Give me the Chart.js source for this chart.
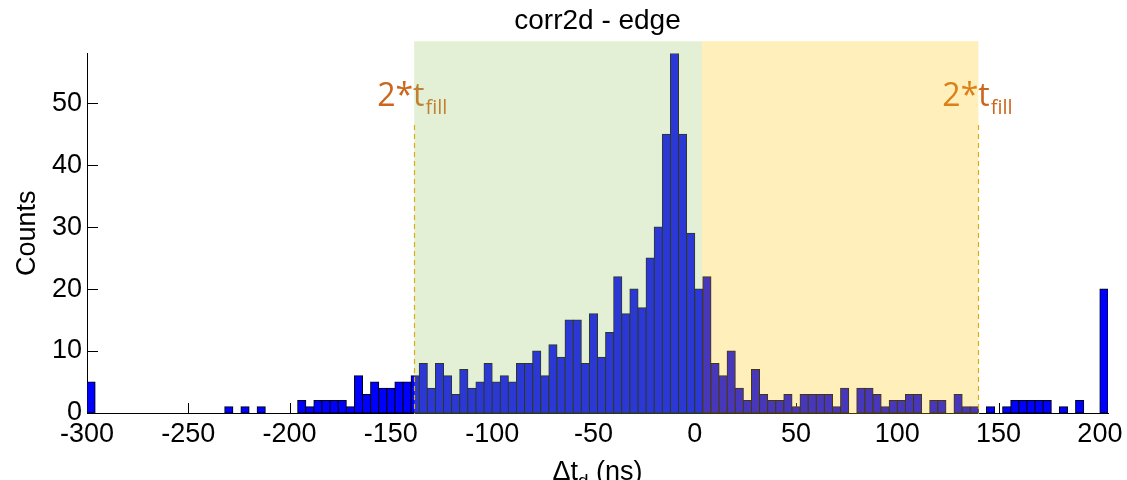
<!DOCTYPE html>
<html>
<head>
<meta charset="utf-8">
<script src="https://cdn.jsdelivr.net/npm/chart.js@4.4.1/dist/chart.umd.min.js"></script>
<style>
  body { margin: 0; background: #fff; }
  #wrap { width: 1127px; height: 480px; position: relative; }
</style>
</head>
<body>
<div id="wrap"><canvas id="histo"></canvas></div>
<script>
// bin centres (ns, 4 ns wide bins) and counts; empty bins left out
const binCenters = [
  -298, -230, -222, -214,
  -194, -190, -186, -182, -178, -174, -170, -166, -162, -158, -154, -150, -146, -142,
  -138, -134, -130, -126, -122, -118, -114, -110, -106, -102, -98, -94, -90, -86, -82,
  -78, -74, -70, -66, -62, -58, -54, -50, -46, -42, -38, -34, -30, -26, -22, -18,
  -14, -10, -6, -2,
  2, 6, 10, 14, 18, 22, 26, 30, 34, 38, 42, 46, 50, 54, 58, 62, 66, 70, 74,
  82, 86, 90, 94, 98, 102, 106, 110, 118, 122, 130, 134, 138,
  146, 154, 158, 162, 166, 170, 174, 182, 190, 202,
];
const counts = [
  5, 1, 1, 1,
  2, 1, 2, 2, 2, 2, 1, 6, 3, 5, 4, 4, 5, 5,
  6, 8, 4, 8, 6, 3, 7, 4, 5, 8, 5, 6, 5, 8, 8,
  10, 6, 11, 9, 15, 15, 8, 16, 9, 13, 22, 16, 20, 17, 25, 30,
  45, 58, 45, 29,
  20, 22, 8, 6, 10, 4, 2, 7, 3, 2, 2, 3, 1, 3, 3, 3, 3, 1, 4,
  4, 4, 3, 1, 2, 2, 3, 3, 2, 2, 3, 1, 1,
  1, 1, 2, 2, 2, 2, 2, 1, 2, 20,
];
const xTicks = [-300, -250, -200, -150, -100, -50, 0, 50, 100, 150, 200];
const yTicks = [0, 10, 20, 30, 40, 50];

// shaded windows and the 2*t_fill markers (ns)
const greenSpan = [-138.5, 3.5];
const yellowSpan = [3.5, 140];
const fillMarks = [-138.5, 140];

const txtFont = "'Liberation Sans', Arial, sans-serif";
const noteFont = "'Open Sans', sans-serif";

// MATLAB style tick marks pointing into the axes, under the bars
const innerTicks = {
  id: "innerTicks",
  beforeDatasetsDraw(chart) {
    let { ctx, scales, chartArea } = chart;
    let x0 = chartArea.left;
    let y0 = scales.y.getPixelForValue(0);
    ctx.save();
    ctx.strokeStyle = "#000";
    ctx.lineWidth = 1;
    ctx.beginPath();
    xTicks.forEach((v) => {
      let px = Math.round(scales.x.getPixelForValue(v)) + 0.5;
      ctx.moveTo(px, y0);
      ctx.lineTo(px, y0 - 10);
    });
    yTicks.forEach((v) => {
      let py = Math.round(scales.y.getPixelForValue(v)) + 0.5;
      ctx.moveTo(x0, py);
      ctx.lineTo(x0 + 11, py);
    });
    ctx.stroke();
    ctx.restore();
  },
};

function fillLabel(ctx, px, baseY) {
  ctx.fillStyle = "#CD661D";
  ctx.textBaseline = "alphabetic";
  ctx.textAlign = "left";
  ctx.font = "32px " + noteFont;
  ctx.fillText("2*t", px, baseY);
  let w = ctx.measureText("2*t").width;
  ctx.font = "20px " + noteFont;
  ctx.fillText("fill", px + w + 1, baseY + 8);
}

// labels, translucent windows (over the bars) and dashed markers
const windows = {
  id: "windows",
  afterDatasetsDraw(chart) {
    let { ctx, scales } = chart;
    let top = scales.y.getPixelForValue(60);
    let bottom = scales.y.getPixelForValue(0) + 1;
    ctx.save();
    fillLabel(ctx, scales.x.getPixelForValue(fillMarks[0]) - 37, 106);
    fillLabel(ctx, scales.x.getPixelForValue(fillMarks[1]) - 36, 106);

    let g0 = scales.x.getPixelForValue(greenSpan[0]);
    let g1 = scales.x.getPixelForValue(greenSpan[1]);
    ctx.fillStyle = "rgba(154, 201, 104, 0.28)";
    ctx.fillRect(g0, top, g1 - g0, bottom - top);
    let y0 = scales.x.getPixelForValue(yellowSpan[0]);
    let y1 = scales.x.getPixelForValue(yellowSpan[1]);
    ctx.fillStyle = "rgba(255, 197, 12, 0.28)";
    ctx.fillRect(y0, top, y1 - y0, bottom - top);

    ctx.strokeStyle = "#DDAA11";
    ctx.lineWidth = 1.2;
    ctx.setLineDash([5, 4]);
    fillMarks.forEach((v) => {
      let px = Math.round(scales.x.getPixelForValue(v)) + 0.5;
      ctx.beginPath();
      ctx.moveTo(px, 125);
      ctx.lineTo(px, bottom);
      ctx.stroke();
    });
    ctx.restore();
  },
  afterDraw(chart) {
    // x label with subscript d
    let { ctx, chartArea } = chart;
    ctx.save();
    ctx.fillStyle = "#000";
    ctx.textBaseline = "alphabetic";
    ctx.textAlign = "left";
    ctx.font = "27px " + txtFont;
    let a = "\u0394t";
    let b = " (ns)";
    let wa = ctx.measureText(a).width;
    let wb = ctx.measureText(b).width;
    ctx.font = "19px " + txtFont;
    let ws = ctx.measureText("d").width;
    let x = (chartArea.left + chartArea.right) / 2 - (wa + ws + wb) / 2;
    ctx.font = "27px " + txtFont;
    ctx.fillText(a, x, 480);
    ctx.fillText(b, x + wa + ws, 480);
    ctx.font = "19px " + txtFont;
    ctx.fillText("d", x + wa, 487);
    ctx.restore();
  },
};

function cargarHistograma() {
  let canvas = document.getElementById("histo");
  if (!canvas) return;

  let puntos = binCenters.map((c, i) => ({ x: c, y: counts[i] }));

  let config = {
    type: "bar",
    data: {
      datasets: [
        {
          data: puntos,
          backgroundColor: "#0000FF",
          borderColor: "#000000",
          borderWidth: 1,
          borderSkipped: false,
          inflateAmount: 0.5,
          barPercentage: 1,
          categoryPercentage: 1,
        },
      ],
    },
    options: {
      responsive: true,
      maintainAspectRatio: false,
      animation: false,
      layout: { padding: { left: 0, right: 19, top: 0, bottom: 0 } },
      plugins: {
        legend: { display: false },
        tooltip: { enabled: false },
        title: {
          display: true,
          fullSize: false,
          text: "corr2d - edge",
          color: "#000",
          font: { family: txtFont, size: 28, weight: "normal" },
          padding: { top: 4, bottom: 16 },
        },
      },
      scales: {
        x: {
          type: "linear",
          offset: false,
          min: -300,
          max: 204,
          grid: { display: false, drawTicks: false, offset: false },
          border: { display: true, color: "#000", width: 1 },
          ticks: {
            color: "#000",
            font: { family: txtFont, size: 27 },
            padding: 5,
            maxRotation: 0,
            autoSkip: false,
            includeBounds: false,
          },
          afterBuildTicks: (scale) => {
            scale.ticks = xTicks.map((v) => ({ value: v }));
          },
          afterFit: (scale) => {
            scale.height = 67;
            scale.paddingLeft = 0;
            scale.paddingRight = 0;
          },
        },
        y: {
          min: 0,
          max: 58,
          grid: { display: false, drawTicks: false },
          border: { display: true, color: "#000", width: 1 },
          ticks: {
            color: "#000",
            font: { family: txtFont, size: 27 },
            padding: 5,
            includeBounds: false,
          },
          afterBuildTicks: (scale) => {
            scale.ticks = yTicks.map((v) => ({ value: v }));
          },
          afterFit: (scale) => {
            scale.width = 87;
            scale.paddingTop = 0;
            scale.paddingBottom = 0;
          },
          title: {
            display: true,
            text: "Counts",
            color: "#000",
            font: { family: txtFont, size: 27 },
            padding: { top: 11, bottom: 0 },
          },
        },
      },
    },
    plugins: [innerTicks, windows],
  };

  new Chart(canvas, config);
}

document.addEventListener("DOMContentLoaded", () => {
  cargarHistograma();
});
</script>
</body>
</html>
